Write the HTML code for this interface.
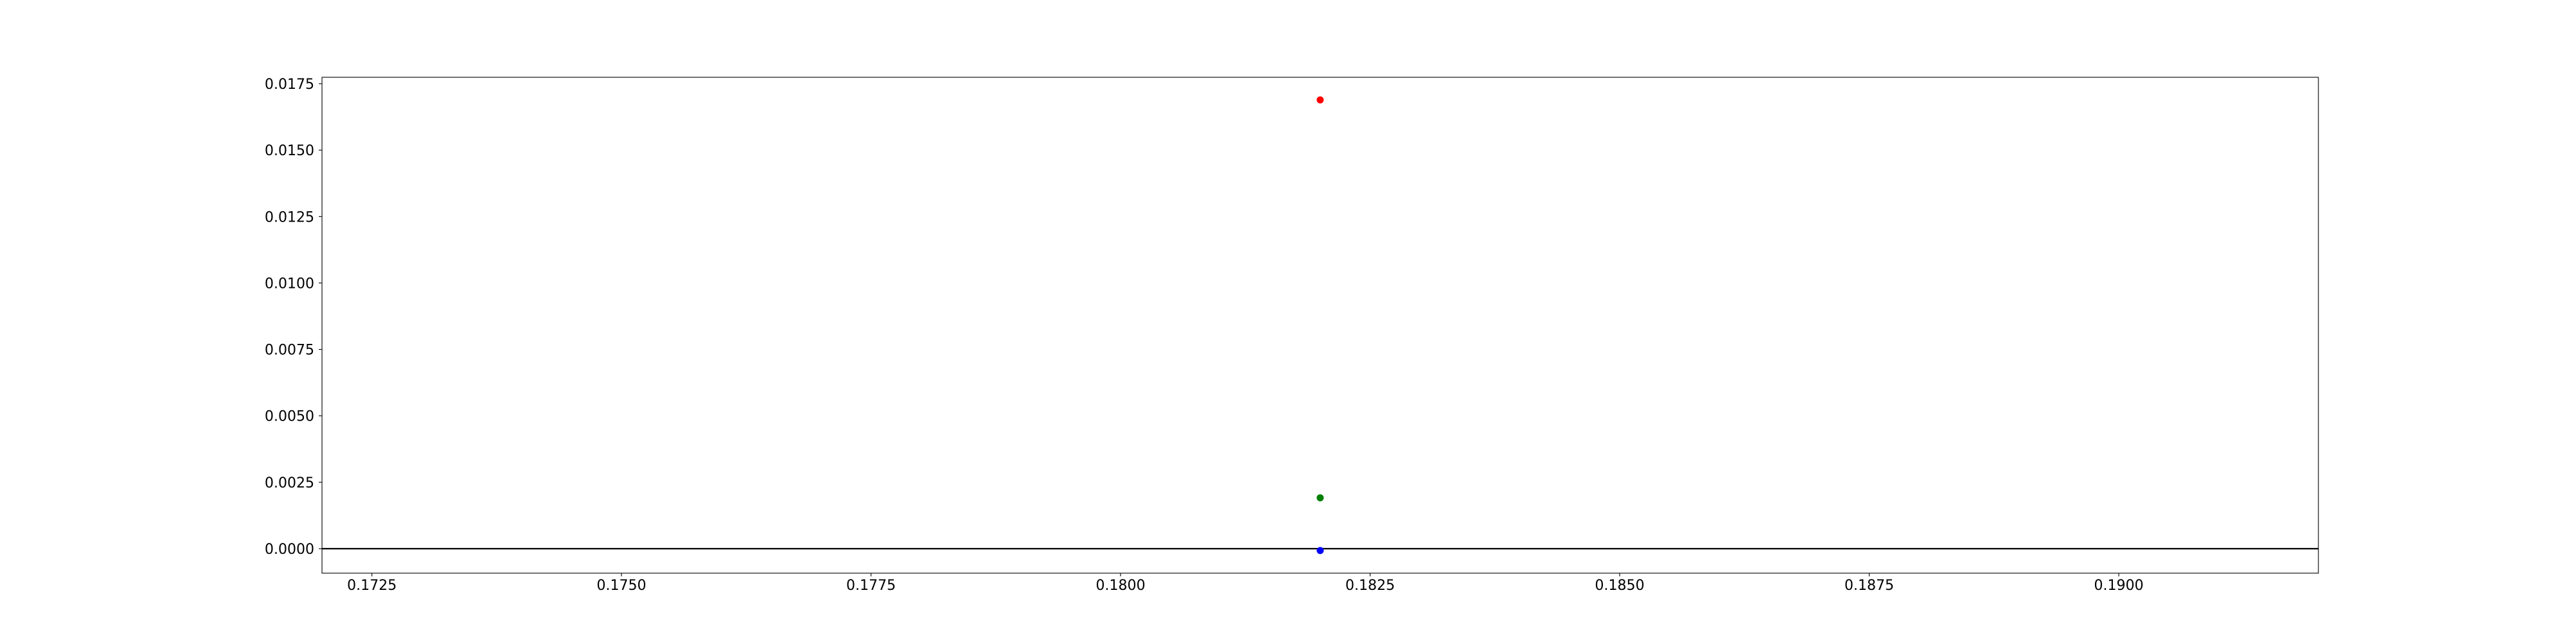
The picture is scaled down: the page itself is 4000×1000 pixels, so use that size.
<!DOCTYPE html>
<html><head><meta charset="utf-8"><style>html,body{margin:0;padding:0;background:#fff;}svg{display:block;}</style></head>
<body>
<svg id="chart" width="4000" height="1000" xmlns="http://www.w3.org/2000/svg" font-family="DejaVu Sans, Liberation Sans, sans-serif" font-size="22">
<rect width="4000" height="1000" fill="#fff"/>
<g id="plot"></g>
</svg>
<script>
const xTicks = [0.1725, 0.1750, 0.1775, 0.1800, 0.1825, 0.1850, 0.1875, 0.1900];
const yTicks = [0.0000, 0.0025, 0.0050, 0.0075, 0.0100, 0.0125, 0.0150, 0.0175];
const pointX = [0.182, 0.182, 0.182];
const pointY = [0.01689, 0.001915, -0.00007];
const pointColors = ['#ff0000', '#008000', '#0000ff'];
const pointNames = ['point-red', 'point-green', 'point-blue'];

const L=500,R=3600,T=120,B=890;
const xMin=0.172,xMax=0.192,yMin=-0.000921,yMax=0.017742;
const xs=v=>L+(v-xMin)/(xMax-xMin)*(R-L);
const ys=v=>B-(v-yMin)/(yMax-yMin)*(B-T);
const NS='http://www.w3.org/2000/svg';
const g=document.getElementById('plot');
function mk(tag,attrs){const e=document.createElementNS(NS,tag);for(const k in attrs)e.setAttribute(k,attrs[k]);g.appendChild(e);return e;}

const zl=mk('line',{x1:L,x2:R,y1:ys(0),y2:ys(0),stroke:'#000','stroke-width':2.2});



xTicks.forEach(v=>{
  const x=xs(v);
  const t=mk('line',{x1:x,x2:x,y1:B,y2:B+5,stroke:'#000','stroke-width':1.1});
  
  
  const tx=mk('text',{x:x,y:B+26,'text-anchor':'middle',fill:'#000'});
  tx.textContent=v.toFixed(4);
  
  
});
yTicks.forEach(v=>{
  const y=ys(v);
  const t=mk('line',{x1:L-5,x2:L,y1:y,y2:y,stroke:'#000','stroke-width':1.1});
  
  
  const tx=mk('text',{x:L-12,y:y+8,'text-anchor':'end',fill:'#000'});
  tx.textContent=v.toFixed(4);
  
  
});
pointX.forEach((v,i)=>{
  const c=mk('circle',{cx:xs(v),cy:ys(pointY[i]),r:5.5,fill:pointColors[i]});
  
  
});
const fr=mk('rect',{x:L,y:T,width:R-L,height:B-T,fill:'none',stroke:'#000','stroke-width':1.1});


</script>
</body></html>
